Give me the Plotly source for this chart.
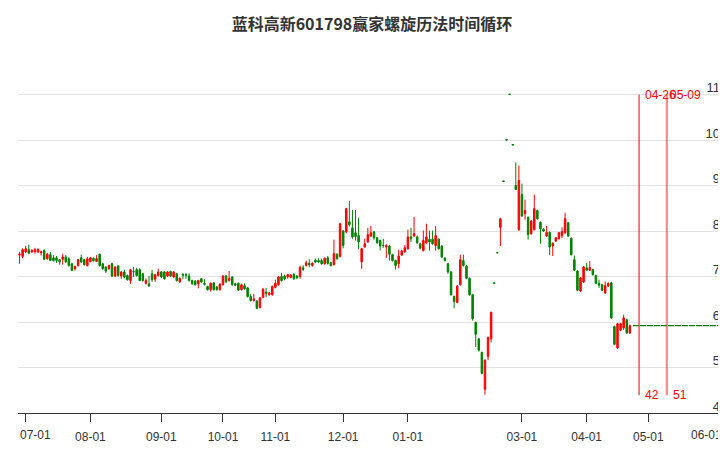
import pandas as pd
import plotly.graph_objects as go

# ---------------- data ----------------
title_text = "蓝科高新601798赢家螺旋历法时间循环"

holidays = ["2023-09-29", "2023-10-02", "2023-10-03", "2023-10-04", "2023-10-05", "2023-10-06",
            "2024-01-01", "2024-02-09", "2024-02-12", "2024-02-13", "2024-02-14", "2024-02-15",
            "2024-02-16", "2024-04-04", "2024-04-05"]

trade_dates = [d.strftime("%Y-%m-%d") for d in pd.bdate_range("2023-06-29", "2024-04-23")
               if d.strftime("%Y-%m-%d") not in holidays]
future_dates = [d.strftime("%Y-%m-%d") for d in pd.bdate_range("2024-04-24", "2024-06-07")]

opens = [7.47, 7.44, 7.54, 7.59, 7.54, 7.55, 7.54, 7.52, 7.57, 7.39, 7.48, 7.41, 7.41, 7.37, 7.38, 7.43,
         7.39, 7.28, 7.17, 7.24, 7.41, 7.37, 7.24, 7.33, 7.40, 7.33, 7.49, 7.28, 7.21, 7.17, 7.28, 7.01,
         7.23, 7.01, 7.10, 7.02, 6.91, 7.11, 7.15, 7.15, 7.06, 6.85, 6.84, 7.06, 6.94, 7.02, 7.10, 7.10,
         7.01, 7.11, 6.99, 7.06, 6.88, 7.05, 7.04, 7.01, 6.91, 6.90, 6.84, 6.95, 6.85, 6.78, 6.71, 6.86,
         6.77, 6.71, 6.82, 7.01, 6.91, 6.99, 6.84, 6.85, 6.71, 6.80, 6.75, 6.56, 6.47, 6.46, 6.32, 6.54,
         6.66, 6.60, 6.60, 6.76, 6.82, 7.00, 7.01, 6.99, 6.98, 7.05, 7.01,
         7.00, 7.19, 7.24, 7.29, 7.24, 7.36, 7.35, 7.35, 7.28, 7.41, 7.30, 7.26, 7.49, 7.44, 8.00, 7.98,
         8.20, 8.07, 7.96, 7.90, 7.32, 7.65, 7.76, 7.89, 7.98, 7.85, 7.79, 7.69, 7.65, 7.67, 7.48, 7.35,
         7.28, 7.47, 7.54, 7.61, 7.87, 7.89, 7.87, 7.72, 7.57, 7.74, 7.82, 7.82, 7.68, 7.82, 7.67, 7.40,
         7.28, 7.10, 6.56, 6.43, 6.82, 7.35, 7.23, 6.96, 6.60, 5.99, 5.63, 5.33, 4.52, 5.24, 5.63,
         6.86, 7.53, 8.08, 9.10, 10.01, 11.01, 9.90,
         9.00, 8.03, 8.80, 8.38, 8.30, 7.94, 8.03, 8.45, 8.19, 8.04, 7.89, 7.97, 7.67, 7.78, 7.83, 7.90,
         7.96, 8.18, 7.84, 7.37, 7.12, 6.68, 6.88, 7.19, 7.14, 7.15, 7.02, 6.85, 6.82, 6.64, 6.79, 6.86,
         5.90, 5.43, 5.82, 5.87, 6.05, 5.76]

closes = [7.49, 7.59, 7.61, 7.51, 7.57, 7.59, 7.59, 7.54, 7.38, 7.49, 7.35, 7.35, 7.35, 7.32, 7.43, 7.32,
          7.24, 7.13, 7.22, 7.37, 7.32, 7.26, 7.39, 7.41, 7.35, 7.39, 7.24, 7.17, 7.12, 7.24, 7.01, 7.21,
          7.02, 7.10, 6.99, 6.93, 7.15, 7.10, 7.02, 6.91, 6.91, 6.91, 6.79, 6.93, 7.04, 7.10, 6.99, 6.95,
          7.10, 7.01, 7.10, 6.91, 6.96, 7.03, 7.03, 6.91, 6.84, 6.82, 6.91, 6.88, 6.83, 6.71, 6.85, 6.71,
          6.71, 6.83, 7.01, 6.88, 6.96, 6.82, 6.81, 6.70, 6.82, 6.73, 6.56, 6.47, 6.51, 6.30, 6.53, 6.72,
          6.62, 6.64, 6.78, 6.85, 6.99, 6.91, 6.95, 7.04, 7.03, 6.95, 6.97,
          7.20, 7.16, 7.30, 7.26, 7.29, 7.32, 7.32, 7.28, 7.40, 7.29, 7.24, 7.50, 7.39, 8.16, 7.68, 8.49,
          8.14, 7.87, 7.88, 7.76, 7.61, 7.72, 7.92, 7.96, 7.85, 7.74, 7.67, 7.68, 7.68, 7.49, 7.35, 7.24,
          7.45, 7.56, 7.63, 7.87, 7.83, 7.94, 7.74, 7.62, 7.79, 7.87, 7.76, 7.72, 7.90, 7.61, 7.43, 7.35,
          7.10, 6.60, 6.45, 6.79, 7.37, 7.24, 6.96, 6.60, 6.07, 5.73, 5.38, 4.87, 5.16, 5.66, 6.21,
          6.85, 7.52, 8.27, 9.09, 10.00, 11.00, 9.89,
          8.91, 9.11, 8.33, 8.45, 7.92, 8.22, 8.49, 8.27, 8.05, 8.00, 7.97, 7.65, 7.73, 7.85, 7.96, 7.99,
          8.27, 7.89, 7.48, 7.14, 6.70, 6.97, 7.21, 7.14, 7.20, 7.04, 6.85, 6.81, 6.70, 6.80, 6.85, 6.09,
          5.51, 5.96, 5.96, 6.09, 5.76, 5.92]

highs = [7.54, 7.62, 7.67, 7.70, 7.60, 7.63, 7.62, 7.57, 7.60, 7.52, 7.54, 7.47, 7.45, 7.38, 7.50, 7.47,
         7.42, 7.30, 7.24, 7.38, 7.48, 7.39, 7.43, 7.43, 7.42, 7.47, 7.50, 7.29, 7.22, 7.26, 7.30, 7.22,
         7.25, 7.12, 7.15, 7.04, 7.16, 7.21, 7.19, 7.18, 7.08, 6.96, 7.01, 7.15, 7.06, 7.17, 7.12, 7.12,
         7.12, 7.13, 7.12, 7.08, 6.98, 7.07, 7.08, 7.07, 6.93, 6.92, 6.93, 6.97, 6.94, 6.80, 6.87, 6.88,
         6.79, 6.85, 7.03, 7.03, 7.12, 7.01, 6.86, 6.87, 6.84, 6.85, 6.77, 6.62, 6.62, 6.48, 6.55, 6.75,
         6.75, 6.66, 6.80, 6.93, 7.01, 7.08, 7.04, 7.06, 7.05, 7.07, 7.03,
         7.24, 7.25, 7.35, 7.38, 7.31, 7.39, 7.40, 7.39, 7.42, 7.45, 7.32, 7.81, 7.51, 8.18, 8.02, 8.51,
         8.66, 8.46, 8.46, 8.29, 7.63, 7.83, 8.07, 8.11, 8.00, 7.87, 7.81, 7.83, 7.71, 7.69, 7.50, 7.37,
         7.59, 7.59, 7.69, 8.03, 8.07, 8.31, 7.90, 7.74, 8.01, 8.16, 8.01, 8.01, 8.11, 7.84, 7.69, 7.43,
         7.30, 7.12, 6.58, 6.81, 7.48, 7.48, 7.25, 6.98, 6.62, 6.01, 5.65, 5.35, 5.18, 5.68, 6.23,
         6.86, 7.53, 8.29, 9.10, 10.01, 11.01, 9.90,
         9.51, 9.44, 9.04, 8.69, 8.32, 8.24, 8.80, 8.47, 8.21, 8.06, 8.11, 7.99, 7.75, 7.87, 7.98, 8.08,
         8.40, 8.20, 7.86, 7.46, 7.14, 6.99, 7.23, 7.30, 7.34, 7.17, 7.04, 6.93, 6.84, 6.89, 6.87, 6.88,
         5.92, 5.98, 5.98, 6.16, 6.07, 5.94]

lows = [7.28, 7.40, 7.52, 7.50, 7.52, 7.50, 7.52, 7.46, 7.36, 7.37, 7.34, 7.33, 7.30, 7.26, 7.26, 7.30,
        7.22, 7.12, 7.13, 7.22, 7.30, 7.24, 7.22, 7.31, 7.33, 7.32, 7.22, 7.15, 7.08, 7.15, 6.99, 6.99,
        7.00, 6.95, 6.96, 6.91, 6.84, 6.99, 7.00, 6.90, 6.89, 6.82, 6.78, 6.88, 6.88, 7.00, 6.97, 6.93,
        6.99, 6.99, 6.97, 6.89, 6.86, 6.94, 6.95, 6.89, 6.82, 6.80, 6.74, 6.86, 6.80, 6.69, 6.67, 6.69,
        6.69, 6.69, 6.80, 6.86, 6.89, 6.80, 6.79, 6.68, 6.69, 6.71, 6.54, 6.45, 6.45, 6.28, 6.30, 6.52,
        6.55, 6.58, 6.58, 6.74, 6.80, 6.89, 6.92, 6.95, 6.96, 6.93, 6.95,
        6.95, 7.12, 7.22, 7.20, 7.22, 7.30, 7.30, 7.26, 7.26, 7.26, 7.22, 7.24, 7.37, 7.42, 7.62, 7.95,
        8.10, 7.83, 7.79, 7.60, 7.17, 7.63, 7.74, 7.87, 7.81, 7.72, 7.57, 7.63, 7.41, 7.35, 7.33, 7.15,
        7.18, 7.45, 7.52, 7.59, 7.76, 7.87, 7.72, 7.60, 7.55, 7.72, 7.57, 7.70, 7.57, 7.59, 7.41, 7.33,
        7.06, 6.58, 6.30, 6.41, 6.80, 7.22, 6.94, 6.58, 6.03, 5.45, 5.35, 4.85, 4.40, 5.16, 5.55,
        6.85, 7.52, 7.67, 9.09, 10.00, 11.00, 9.89,
        8.90, 8.00, 8.31, 8.25, 7.81, 7.92, 8.01, 8.25, 7.72, 7.98, 7.87, 7.47, 7.45, 7.76, 7.81, 7.85,
        7.94, 7.87, 7.46, 7.12, 6.68, 6.66, 6.86, 7.12, 7.12, 7.02, 6.83, 6.75, 6.68, 6.62, 6.77, 6.07,
        5.49, 5.41, 5.80, 5.82, 5.74, 5.74]

tick_dates = ["2023-07-03", "2023-08-01", "2023-09-01", "2023-10-09", "2023-11-01", "2023-12-01",
              "2024-01-02", "2024-03-01", "2024-04-01", "2024-05-01", "2024-06-03"]
tick_text = ["07-01", "08-01", "09-01", "10-01", "11-01", "12-01", "01-01", "03-01", "04-01", "05-01", "06-01"]

y_ticks = [4, 5, 6, 7, 8, 9, 10, 11, 12]
y_text = ["4", "5", "6", "7", "8", "9", "10", "11", ""]

cycle_dates = ["2024-04-26", "2024-05-09"]
cycle_labels = ["04-26", "05-09"]
cycle_nums = ["42", "51"]
cycle_top = 11.0
cycle_bottom = 4.39

# ---------------- figure ----------------
# the page body has an 8px margin, so the figure is 8px smaller on each axis
W, H = 718, 442
n = len(closes)
dates = trade_dates[:n]
all_cats = trade_dates + future_dates

fig = go.Figure()
fig.add_trace(go.Candlestick(
    x=dates, open=opens, high=highs, low=lows, close=closes,
    increasing=dict(line=dict(color="#ff0000", width=1), fillcolor="#ff0000"),
    decreasing=dict(line=dict(color="#008000", width=1), fillcolor="#008000"),
    whiskerwidth=0, showlegend=False, name="K"))

# last close dashed line
fig.add_trace(go.Scatter(
    x=[future_dates[0], future_dates[-1]], y=[closes[-1], closes[-1]], mode="lines",
    line=dict(color="#008000", width=1.2, dash="6px,1px"), showlegend=False, hoverinfo="skip"))

line_styles = [dict(color="#ff0000", width=1), dict(color="rgba(240,40,40,0.55)", width=2.2)]
top_shift = [4, 1]
for d, lab, num, st, sh in zip(cycle_dates, cycle_labels, cycle_nums, line_styles, top_shift):
    fig.add_trace(go.Scatter(x=[d, d], y=[cycle_bottom, cycle_top], mode="lines", line=st,
                             showlegend=False, hoverinfo="skip"))
    fig.add_annotation(x=d, y=cycle_top, text=lab, showarrow=False, xanchor="left", yanchor="middle",
                       xshift=sh, font=dict(size=12, color="#ff0000", family="Liberation Sans"))
    fig.add_annotation(x=d, y=cycle_bottom, text=num, showarrow=False, xanchor="left", yanchor="middle",
                       xshift=4, font=dict(size=12, color="#ff0000", family="Liberation Sans"))

# edge tick labels are kept inside the chart (first aligned left, last aligned right)
shown_text = [""] + tick_text[1:-1] + [""]
tick_font = dict(size=12, color="#333333", family="Liberation Sans")
fig.add_annotation(x=0, xref="paper", y=0, yref="paper", text=tick_text[0], showarrow=False,
                   xanchor="left", yanchor="middle", yshift=-22, font=tick_font)
fig.add_annotation(x=tick_dates[-1], y=0, yref="paper", text=tick_text[-1], showarrow=False,
                   xanchor="right", yanchor="middle", yshift=-22, xshift=5, font=tick_font)

fig.update_layout(
    width=W, height=H,
    margin=dict(l=10, r=0, t=41, b=37, autoexpand=False),
    paper_bgcolor="white", plot_bgcolor="white",
    title=dict(text="<b>" + title_text + "</b>", x=0.5, xref="paper", xanchor="center",
               y=1 - 16 / H, yref="container", yanchor="middle",
               font=dict(size=16, color="#333333", family="Noto Sans CJK SC")),
    showlegend=False,
    xaxis=dict(type="category", categoryorder="array", categoryarray=all_cats,
               range=[-0.5, 229.2], tickmode="array", tickvals=tick_dates, ticktext=shown_text,
               showgrid=False, showline=True, linecolor="#333333", linewidth=1,
               ticks="outside", ticklen=8, tickcolor="#333333", tickwidth=1,
               ticklabelstandoff=5, tickfont=tick_font, automargin=False,
               rangeslider=dict(visible=False), fixedrange=True),
    yaxis=dict(side="right", range=[4, 12], tickmode="array", tickvals=y_ticks, ticktext=y_text,
               ticklabelposition="inside", ticklabelshift=-7, ticklabelstandoff=3,
               ticklabeloverflow="allow", automargin=False,
               showgrid=True, gridcolor="#e3e3e3", gridwidth=1, zeroline=False, showline=False,
               ticks="", tickfont=dict(size=13, color="#333333", family="Liberation Sans"),
               fixedrange=True),
)

fig.write_html("out.html")
